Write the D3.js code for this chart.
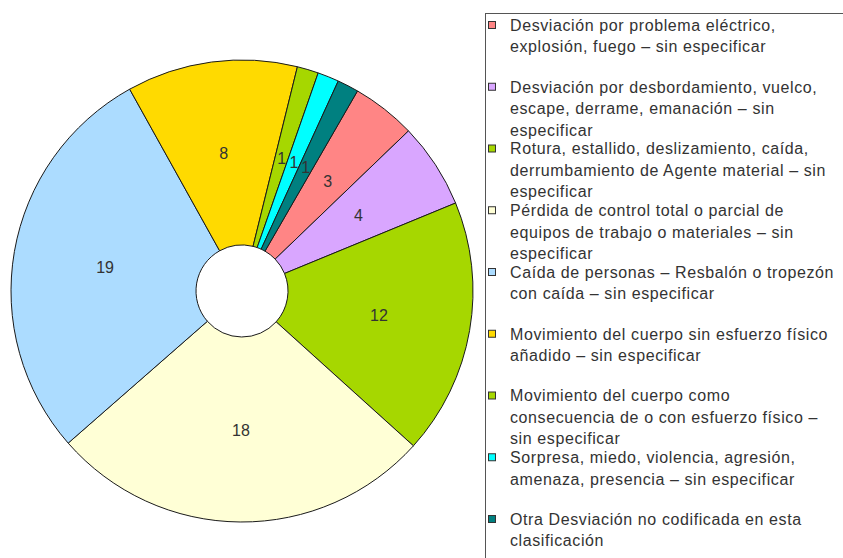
<!DOCTYPE html>
<html><head><meta charset="utf-8">
<script src="https://cdn.jsdelivr.net/npm/d3@7/dist/d3.min.js"></script>
<style>body{margin:0;background:#fff}svg{display:block}</style>
</head><body>
<script>
const categories = [
  ["Desviación por problema eléctrico,", "explosión, fuego – sin especificar"],
  ["Desviación por desbordamiento, vuelco,", "escape, derrame, emanación – sin", "especificar"],
  ["Rotura, estallido, deslizamiento, caída,", "derrumbamiento de Agente material – sin", "especificar"],
  ["Pérdida de control total o parcial de", "equipos de trabajo o materiales – sin", "especificar"],
  ["Caída de personas – Resbalón o tropezón", "con caída – sin especificar"],
  ["Movimiento del cuerpo sin esfuerzo físico", "añadido – sin especificar"],
  ["Movimiento del cuerpo como", "consecuencia de o con esfuerzo físico –", "sin especificar"],
  ["Sorpresa, miedo, violencia, agresión,", "amenaza, presencia – sin especificar"],
  ["Otra Desviación no codificada en esta", "clasificación"]
];
const values = [3, 4, 12, 18, 19, 8, 1, 1, 1];
const colors = ["#ff8585", "#d9a6ff", "#a6d700", "#ffffd6", "#acdcff", "#ffda00", "#a6d700", "#00ffff", "#008080"];

const W = 843, H = 558;
const svg = d3.select("body").append("svg").attr("width", W).attr("height", H);

const cx = 242, cy = 291, R = 231, r0 = 46;
const start = 30 * Math.PI / 180;
const pie = d3.pie().sort(null).value(d => d).startAngle(start).endAngle(start + 2 * Math.PI);
const arcs = pie(values);
const arc = d3.arc().innerRadius(r0).outerRadius(R);
const labelArc = d3.arc().innerRadius(139).outerRadius(139);

const g = svg.append("g").attr("transform", `translate(${cx},${cy})`);
g.selectAll("path.slice").data(arcs).join("path")
  .attr("class", "slice")
  .attr("d", arc)
  .attr("fill", (d, i) => colors[i])
  .attr("stroke", "#1a1a1a")
  .attr("stroke-width", 1);

g.selectAll("text.lbl").data(arcs).join("text")
  .attr("class", "lbl")
  .attr("transform", d => `translate(${labelArc.centroid(d)})`)
  .attr("text-anchor", "middle")
  .attr("dy", "0.36em")
  .attr("font-family", "Liberation Sans, Arial, sans-serif")
  .attr("font-size", 16)
  .attr("fill", "#333")
  .text(d => d.data);

// Legend
const lx = 485, ly = 13;
svg.append("rect")
  .attr("x", lx + 0.5).attr("y", ly + 0.5)
  .attr("width", W + 10 - lx).attr("height", H + 10 - ly)
  .attr("fill", "#fff").attr("stroke", "#555").attr("stroke-width", 1);

const slot = 61.75, firstCenter = 25, lineH = 21.5;
const items = svg.append("g").selectAll("g").data(categories).join("g")
  .attr("transform", (d, i) => `translate(0,${firstCenter + i * slot})`);
items.append("rect")
  .attr("x", 488.5).attr("y", -3.5).attr("width", 7).attr("height", 7)
  .attr("fill", (d, i) => colors[i]).attr("stroke", "#333").attr("stroke-width", 1);
items.each(function(lines) {
  const t = d3.select(this).append("text")
    .attr("font-family", "Liberation Sans, Arial, sans-serif")
    .attr("font-size", 16)
    .attr("letter-spacing", "0.6px")
    .attr("fill", "#333");
  lines.forEach((ln, j) => {
    t.append("tspan").attr("x", 510).attr("y", j * lineH).attr("dy", "0.36em").text(ln);
  });
});
</script>
</body></html>
